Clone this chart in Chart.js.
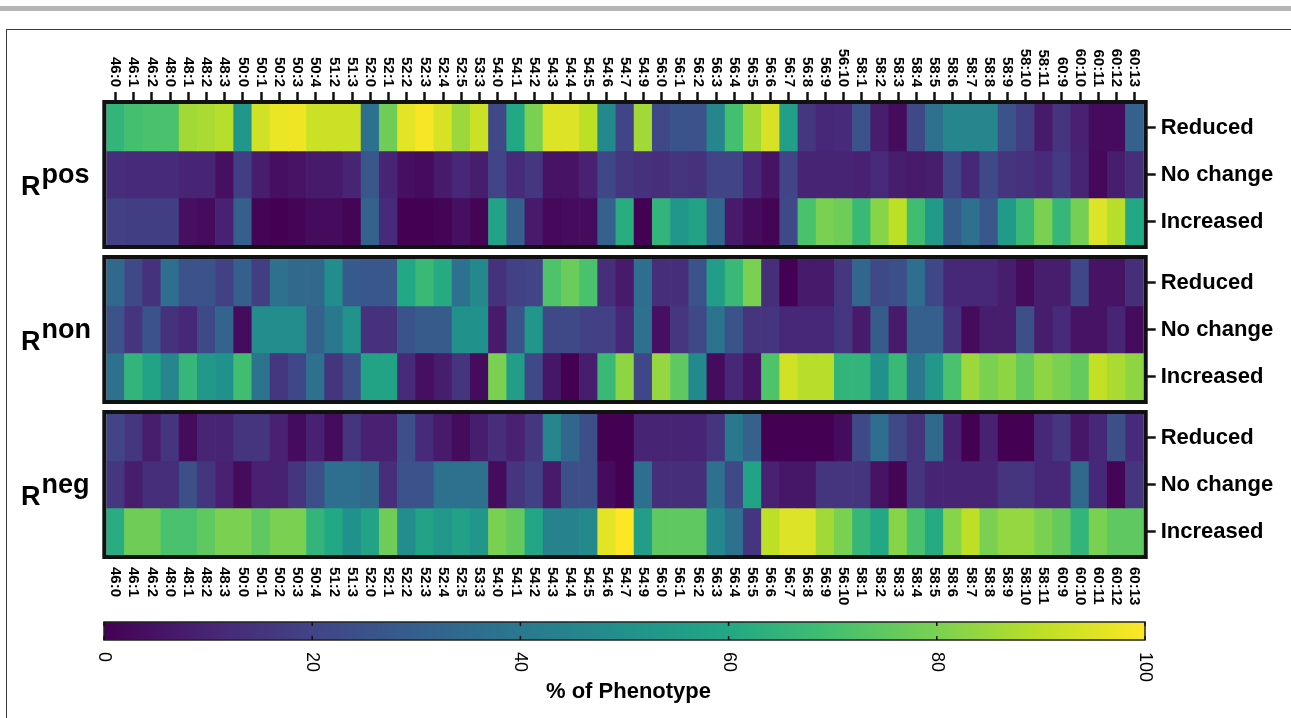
<!DOCTYPE html>
<html><head><meta charset="utf-8">
<script src="https://cdn.jsdelivr.net/npm/chart.js@4.4.1/dist/chart.umd.min.js"></script>
<style>
html,body{margin:0;padding:0;background:#fff;width:1291px;height:718px;overflow:hidden;}
#topbar{position:absolute;left:0;top:6px;width:1291px;height:5px;background:#b5b5b5;}
#frame{position:absolute;left:6px;top:29px;width:1320px;height:720px;border:1.5px solid #3a3a3a;}
#c1{position:absolute;left:0;top:0;}
#c2{position:absolute;left:0;top:600px;}
</style></head><body>
<div id="topbar"></div><div id="frame"></div>
<canvas id="c1" width="1291" height="718"></canvas>
<canvas id="c2" width="1291" height="118"></canvas>
<script>
// ---- Data ----
const lipidLabels = ['46:0','46:1','46:2','48:0','48:1','48:2','48:3','50:0','50:1','50:2','50:3','50:4','51:2','51:3','52:0','52:1','52:2','52:3','52:4','52:5','53:3','54:0','54:1','54:2','54:3','54:4','54:5','54:6','54:7','54:9','56:0','56:1','56:2','56:3','56:4','56:5','56:6','56:7','56:8','56:9','56:10','58:1','58:2','58:3','58:4','58:5','58:6','58:7','58:8','58:9','58:10','58:11','60:9','60:10','60:11','60:12','60:13'];
const rowLabels = ['Reduced','No change','Increased'];
const panelMain = ['R','R','R'];
const panelSup = ['pos','non','neg'];

const posReduced   = [65,70,71,71,86,87,89,52,93,97, 98,92,92,92,37,78,96,99,94,85, 92,22,60,80,95,95,90,47,20,86, 22,26,25,46,70,86,94,56,16,11, 12,25,8,3,22,37,45,45,45,25, 18,7,15,9,3,3,31];
const posNoChange  = [13,12,12,12,10,10,4,18,8,4, 5,7,7,10,27,10,4,3,7,11, 8,20,12,16,5,5,9,21,16,14, 13,15,14,20,20,11,5,20,10,10, 10,9,12,8,7,8,20,11,22,15, 14,12,17,10,2,8,13];
const posIncreased = [19,18,18,18,4,3,9,30,1,0, 1,3,3,1,31,12,0,0,1,4, 1,58,30,7,2,3,3,31,62,0, 65,52,58,33,7,3,1,22,71,80, 78,67,82,90,69,54,29,37,27,54, 67,80,66,79,95,89,60];

const nonReduced   = [34,22,14,36,25,25,19,30,18,37, 34,34,48,28,27,27,60,67,61,37, 47,14,19,20,72,77,71,13,7,36, 13,13,25,55,67,80,13,0,7,7, 16,33,22,24,36,21,11,11,11,8, 3,8,8,21,5,5,13];
const nonNoChange  = [25,15,26,14,11,22,32,3,48,48, 48,31,40,51,14,14,26,29,29,50, 50,7,25,52,22,22,19,19,11,37, 4,16,22,38,26,15,15,11,11,11, 16,7,29,7,30,30,14,3,8,8, 24,8,12,5,5,10,3];
const nonIncreased = [37,65,58,45,66,53,50,69,38,16, 21,37,15,24,58,58,12,4,8,15, 3,80,55,22,6,0,8,67,83,21, 84,75,47,3,11,5,72,93,89,89, 65,65,50,67,40,53,71,85,80,83, 76,83,80,76,91,87,83];

const negReduced   = [20,16,8,15,3,10,10,15,15,9, 3,9,3,15,9,9,24,12,7,3, 8,13,9,16,45,33,24,0,0,10, 10,10,10,15,40,31,0,0,0,0, 3,22,36,22,15,34,9,0,9,0, 0,11,16,6,11,24,12];
const negNoChange  = [16,8,13,13,24,15,9,3,9,9, 15,24,36,36,34,13,25,25,37,37, 37,3,15,19,7,24,24,3,0,36, 13,13,13,37,22,58,9,6,6,15, 15,15,5,1,15,10,10,10,10,15, 15,11,11,34,11,1,15];
const negIncreased = [62,78,78,71,71,75,80,80,75,80, 80,65,60,50,58,78,48,58,53,57, 52,80,76,59,44,44,47,96,100,55, 75,75,75,47,37,15,90,95,95,86, 80,66,60,82,71,61,82,90,80,84, 84,80,76,65,80,75,75];

const colorbarTicks = [0,20,40,60,80,100];
const colorbarTitle = '% of Phenotype';

// ---- Palette ----
const viridisStops = ['#440154','#482475','#414487','#355f8d','#2a788e','#21918c','#22a884','#44bf70','#7ad151','#bddf26','#fde725'];
function hexRgb(h){return [parseInt(h.slice(1,3),16),parseInt(h.slice(3,5),16),parseInt(h.slice(5,7),16)];}
function viridis(v){
  let t=Math.max(0,Math.min(1,v/100))*10;
  let i=Math.min(9,Math.floor(t)), f=t-i;
  const a=hexRgb(viridisStops[i]), b=hexRgb(viridisStops[i+1]);
  const c=a.map((x,k)=>Math.round(x+(b[k]-x)*f));
  return 'rgb('+c.join(',')+')';
}

const FONT='"Liberation Sans", Arial, sans-serif';
const panels = [[posReduced,posNoChange,posIncreased],[nonReduced,nonNoChange,nonIncreased],[negReduced,negNoChange,negIncreased]];
const GAP = 14/47;
const YMAX = 9 + 2*GAP;
const rowStart = (p,r) => p*(3+GAP)+r;

const datasets=[]; const rowCenters=[];
panels.forEach((rows,p)=>rows.forEach((vals,r)=>{
  const b=rowStart(p,r);
  rowCenters.push(b+0.5);
  datasets.push({
    label: panelSup[p]+' '+rowLabels[r],
    data: vals.map(()=>[b,b+1]),
    backgroundColor: vals.map(viridis),
    borderWidth:0,
    grouped:false,
    barPercentage:1, categoryPercentage:1
  });
}));

const decor = {
  id:'decor',
  afterDraw(chart){
    const ctx=chart.ctx, xs=chart.scales.x, ys=chart.scales.y, ca=chart.chartArea;
    ctx.save();
    // panel borders
    ctx.strokeStyle='#111'; ctx.lineWidth=4;
    for(let p=0;p<3;p++){
      const t=ys.getPixelForValue(rowStart(p,0)), b=ys.getPixelForValue(rowStart(p,0)+3);
      ctx.strokeRect(ca.left-2, t-2, (ca.right-ca.left)+4, (b-t)+4);
    }
    // rotated column labels (top and bottom)
    ctx.fillStyle='#000'; ctx.font='bold 15px '+FONT; ctx.textBaseline='middle';
    const topY = ys.getPixelForValue(0) - 17;
    const botY = ys.getPixelForValue(YMAX) + 12;
    lipidLabels.forEach((lab,i)=>{
      const x=xs.getPixelForTick(i);
      ctx.save(); ctx.translate(x, topY); ctx.rotate(Math.PI/2); ctx.textAlign='right'; ctx.fillText(lab,0,0); ctx.restore();
      ctx.save(); ctx.translate(x, botY); ctx.rotate(Math.PI/2); ctx.textAlign='left'; ctx.fillText(lab,0,0); ctx.restore();
    });
    // panel names
    ctx.textAlign='left'; ctx.textBaseline='alphabetic';
    for(let p=0;p<3;p++){
      const cy=ys.getPixelForValue(rowStart(p,0)+1.5);
      ctx.font='bold 27px '+FONT; ctx.fillText(panelMain[p], 21, cy+20);
      ctx.font='bold 27px '+FONT; ctx.fillText(panelSup[p], 41.5, cy+8);
    }
    ctx.restore();
  }
};

new Chart(document.getElementById('c1'),{
  type:'bar',
  data:{labels:lipidLabels, datasets},
  options:{
    responsive:false, animation:false,
    layout:{padding:{left:106.3,right:7.3,top:90,bottom:163}},
    plugins:{legend:{display:false},tooltip:{enabled:false}},
    scales:{
      x:{type:'category',position:'top',offset:true,
        grid:{display:true,drawOnChartArea:false,drawTicks:true,tickLength:12,tickColor:'#111',tickWidth:2.5,offset:false},
        border:{display:false},
        ticks:{display:false},
        afterFit:s=>{s.height=14;}
      },
      y:{type:'linear',position:'right',reverse:true,min:0,max:YMAX,
        afterBuildTicks:s=>{s.ticks=rowCenters.map(v=>({value:v}));},
        grid:{display:true,drawOnChartArea:false,drawTicks:true,tickLength:12,tickColor:'#111',tickWidth:2.5,offset:false},
        border:{display:false},
        ticks:{autoSkip:false,padding:5,color:'#000',font:{family:FONT,size:22,weight:'bold'},
          callback:(v,i)=>rowLabels[i%3]},
        afterFit:s=>{s.width=140;}
      }
    }
  },
  plugins:[decor]
});

// ---- Colorbar ----
const cbar = {
  id:'cbar',
  afterDraw(chart){
    const ctx=chart.ctx, xs=chart.scales.x, ca=chart.chartArea;
    const x0=xs.getPixelForValue(0), x1=xs.getPixelForValue(100);
    ctx.save();
    const g=ctx.createLinearGradient(x0,0,x1,0);
    viridisStops.forEach((c,i)=>g.addColorStop(i/10,c));
    ctx.fillStyle=g; ctx.fillRect(x0,ca.top,x1-x0,ca.bottom-ca.top);
    ctx.strokeStyle='#222'; ctx.lineWidth=1.5; ctx.strokeRect(x0,ca.top,x1-x0,ca.bottom-ca.top);
    ctx.strokeStyle='#111'; ctx.lineWidth=1.5;
    colorbarTicks.forEach(v=>{
      const x=xs.getPixelForValue(v);
      ctx.beginPath(); ctx.moveTo(x,ca.top); ctx.lineTo(x,ca.top+4); ctx.moveTo(x,ca.bottom-4); ctx.lineTo(x,ca.bottom); ctx.stroke();
    });
    ctx.fillStyle='#000'; ctx.font='18px '+FONT; ctx.textBaseline='middle'; ctx.textAlign='left';
    colorbarTicks.forEach(v=>{
      const x=xs.getPixelForValue(v);
      ctx.save(); ctx.translate(x, ca.bottom+12); ctx.rotate(Math.PI/2); ctx.fillText(String(v),0,0); ctx.restore();
    });
    ctx.font='bold 22px '+FONT; ctx.textAlign='center'; ctx.textBaseline='alphabetic';
    ctx.fillText(colorbarTitle, (x0+x1)/2+4, 98);
    ctx.restore();
  }
};
new Chart(document.getElementById('c2'),{
  type:'scatter',
  data:{datasets:[]},
  options:{
    responsive:false, animation:false,
    layout:{padding:{left:104,right:146,top:22,bottom:78}},
    plugins:{legend:{display:false},tooltip:{enabled:false}},
    scales:{
      x:{type:'linear',min:0,max:100,display:false},
      y:{type:'linear',min:0,max:1,display:false}
    }
  },
  plugins:[cbar]
});
</script>
</body></html>
